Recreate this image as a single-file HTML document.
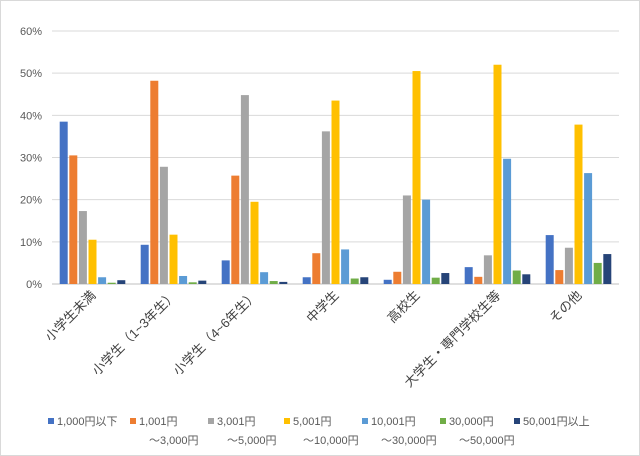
<!DOCTYPE html>
<html><head><meta charset="utf-8"><style>
body{margin:0;background:#fff}
svg{display:block;font-family:"Liberation Sans","Noto Sans CJK JP",sans-serif}
</style></head><body>
<svg width="640" height="456" viewBox="0 0 640 456">
<rect x="0.5" y="0.5" width="639" height="455" fill="#fff" stroke="#d9d9d9"/>
<g id="grid"></g><g id="bars"></g><g id="xl"></g><g id="leg"></g>
</svg>
<script>
const categories=["小学生未満","小学生（1~3年生）","小学生（4~6年生）","中学生","高校生","大学生・専門学校生等","その他"];
const s1=[38.5,9.3,5.6,1.6,1.0,4.0,11.6];
const s2=[30.5,48.2,25.7,7.3,2.9,1.7,3.3];
const s3=[17.3,27.8,44.8,36.2,21.0,6.8,8.6];
const s4=[10.5,11.7,19.5,43.5,50.5,52.0,37.8];
const s5=[1.6,1.9,2.8,8.2,20.0,29.7,26.3];
const s6=[0.3,0.4,0.7,1.3,1.5,3.2,5.0];
const s7=[0.9,0.8,0.5,1.6,2.6,2.3,7.1];
const seriesNames=[["1,000円以下",""],["1,001円","～3,000円"],["3,001円","～5,000円"],["5,001円","～10,000円"],["10,001円","～30,000円"],["30,000円","～50,000円"],["50,001円以上",""]];
const ticks=[0,10,20,30,40,50,60];
const series=[s1,s2,s3,s4,s5,s6,s7];
const colors=["#4472c4","#ed7d31","#a5a5a5","#ffc000","#5b9bd5","#70ad47","#264478"];
const NS="http://www.w3.org/2000/svg";
const X0=52,X1=619,Y0=284,YT=31,MAX=60;
const y=v=>Y0-(v/MAX)*(Y0-YT);
const gw=(X1-X0)/categories.length;
const bw=8,step=9.6;
function mk(t,a,p){const e=document.createElementNS(NS,t);for(const k in a)e.setAttribute(k,a[k]);p.appendChild(e);return e;}
const grid=document.getElementById('grid');
ticks.forEach(t=>{
 const l=mk('line',{x1:X0,x2:X1,y1:y(t),y2:y(t),stroke:t===0?'#bfbfbf':'#d9d9d9','stroke-width':1},grid);
 
 
 const tx=mk('text',{x:42,y:y(t)+4,'text-anchor':'end','font-size':11,fill:'#595959'},grid);
 tx.textContent=t+'%';
 
 
});
const bars=document.getElementById('bars');
categories.forEach((c,i)=>{
 const c0=X0+gw*i+gw/2-(step*7-1.6)/2;
 series.forEach((s,j)=>{
  const r=mk('rect',{x:c0+j*step,y:y(s[i]),width:bw,height:Y0-y(s[i]),fill:colors[j]},bars);
  
  
 });
 const cx=X0+gw*i+gw/2+4;
 const t=mk('text',{x:cx,y:296,'text-anchor':'end','font-size':13,fill:'#404040',transform:`rotate(-45 ${cx} 296)`},document.getElementById('xl'));
 t.textContent=c;
 
 
});
const leg=document.getElementById('leg');
const lx=[48,130,208,284,362,440,514];
seriesNames.forEach((n,j)=>{
 const g=mk('g',{},leg);
 
 
 mk('rect',{x:lx[j],y:418,width:6,height:6,fill:colors[j]},g);
 const t=mk('text',{x:lx[j]+9,y:425,'font-size':11,fill:'#595959'},g);t.textContent=n[0];
 if(n[1]){const t2=mk('text',{x:lx[j]+9+(j===0?0:10),y:444,'font-size':11,fill:'#595959'},g);t2.textContent=n[1];}
});
</script>
</body></html>
